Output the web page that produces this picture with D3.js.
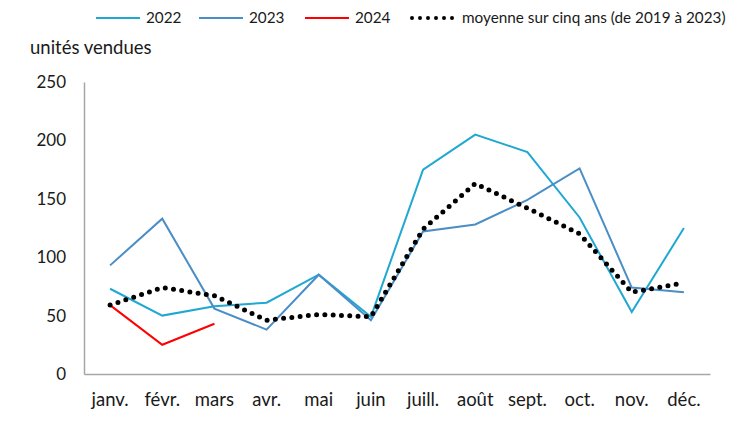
<!DOCTYPE html>
<html>
<head>
<meta charset="utf-8">
<script src="https://cdn.jsdelivr.net/npm/d3@7"></script>
<style>
  body { margin: 0; background: #fff; }
  text { font-family: Lato, "Open Sans", sans-serif; fill: #1a1a1a; }
</style>
</head>
<body>
<div id="chart"></div>
<script>
const months = ['janv.', 'févr.', 'mars', 'avr.', 'mai', 'juin', 'juill.', 'août', 'sept.', 'oct.', 'nov.', 'déc.'];
const v2022 = [73, 50, 58, 61, 85, 49, 175, 205, 190, 134, 53, 125];
const v2023 = [93, 133, 56, 38, 85, 46, 122, 128, 149, 176, 74, 70];
const v2024 = [59, 25, 43];
const avg5 = [59, 74, 67, 46, 51, 49, 124, 163, 142, 120, 70, 78];
const yTicks = [0, 50, 100, 150, 200, 250];

const width = 750, height = 422;
const margin = { top: 82, right: 40, bottom: 48, left: 84 };

const svg = d3.select('#chart').append('svg')
  .attr('width', width).attr('height', height);

const x = d3.scaleBand()
  .domain(months)
  .range([margin.left, width - margin.right]);

const y = d3.scaleLinear()
  .domain([0, 250])
  .range([height - margin.bottom, margin.top]);

// axes
const xAxis = svg.append('g')
  .attr('transform', `translate(0,${y(0)})`)
  .call(d3.axisBottom(x).tickSize(0).tickPadding(19));
xAxis.select('.domain').attr('stroke', '#a6a6a6').attr('stroke-width', 1.5);
xAxis.selectAll('text').style('font-size', '18.5px').attr('fill', '#1a1a1a');

const yAxis = svg.append('g')
  .attr('transform', `translate(${margin.left},0)`)
  .call(d3.axisLeft(y).tickValues(yTicks).tickSize(0).tickPadding(18));
yAxis.select('.domain').attr('stroke', '#a6a6a6').attr('stroke-width', 1.5);
yAxis.selectAll('text').style('font-size', '17px').attr('fill', '#1a1a1a');

svg.append('text')
  .attr('x', 30).attr('y', 54)
  .style('font-size', '18.5px')
  .text('unités vendues');

const line = d3.line()
  .x((d, i) => x(months[i]) + x.bandwidth() / 2)
  .y(d => y(d));

const series = [
  { name: '2022', values: v2022, color: '#1fa8d1', dots: false },
  { name: '2023', values: v2023, color: '#4a8ec7', dots: false },
  { name: '2024', values: v2024, color: '#ff0000', dots: false },
  { name: 'moyenne sur cinq ans (de 2019 à 2023)', values: avg5, color: '#000', dots: true }
];

// draw lines (average on top)
series.forEach(s => {
  const p = svg.append('path')
    .datum(s.values)
    .attr('fill', 'none')
    .attr('d', line);
  if (s.dots) {
    p.attr('stroke', s.color).attr('stroke-width', 5)
      .attr('stroke-linecap', 'round').attr('stroke-dasharray', '0 8.3');
  } else {
    p.attr('stroke', s.color).attr('stroke-width', 2);
  }
});

// legend
const legendX = [96, 199, 305, 410];
const legend = svg.append('g');
series.forEach((s, i) => {
  const g = legend.append('g').attr('transform', `translate(${legendX[i]},18)`);
  const l = g.append('line').attr('x1', 0).attr('x2', 44).attr('y1', 0).attr('y2', 0)
    .attr('stroke', s.color);
  if (s.dots) {
    l.attr('x1', 2).attr('x2', 44).attr('stroke-width', 4).attr('stroke-linecap', 'round')
      .attr('stroke-dasharray', '0 8');
  } else {
    l.attr('stroke-width', 2);
  }
  g.append('text').attr('x', s.dots ? 52 : 50).attr('y', 5)
    .style('font-size', '15.3px')
    .text(s.name);
});
</script>
</body>
</html>
